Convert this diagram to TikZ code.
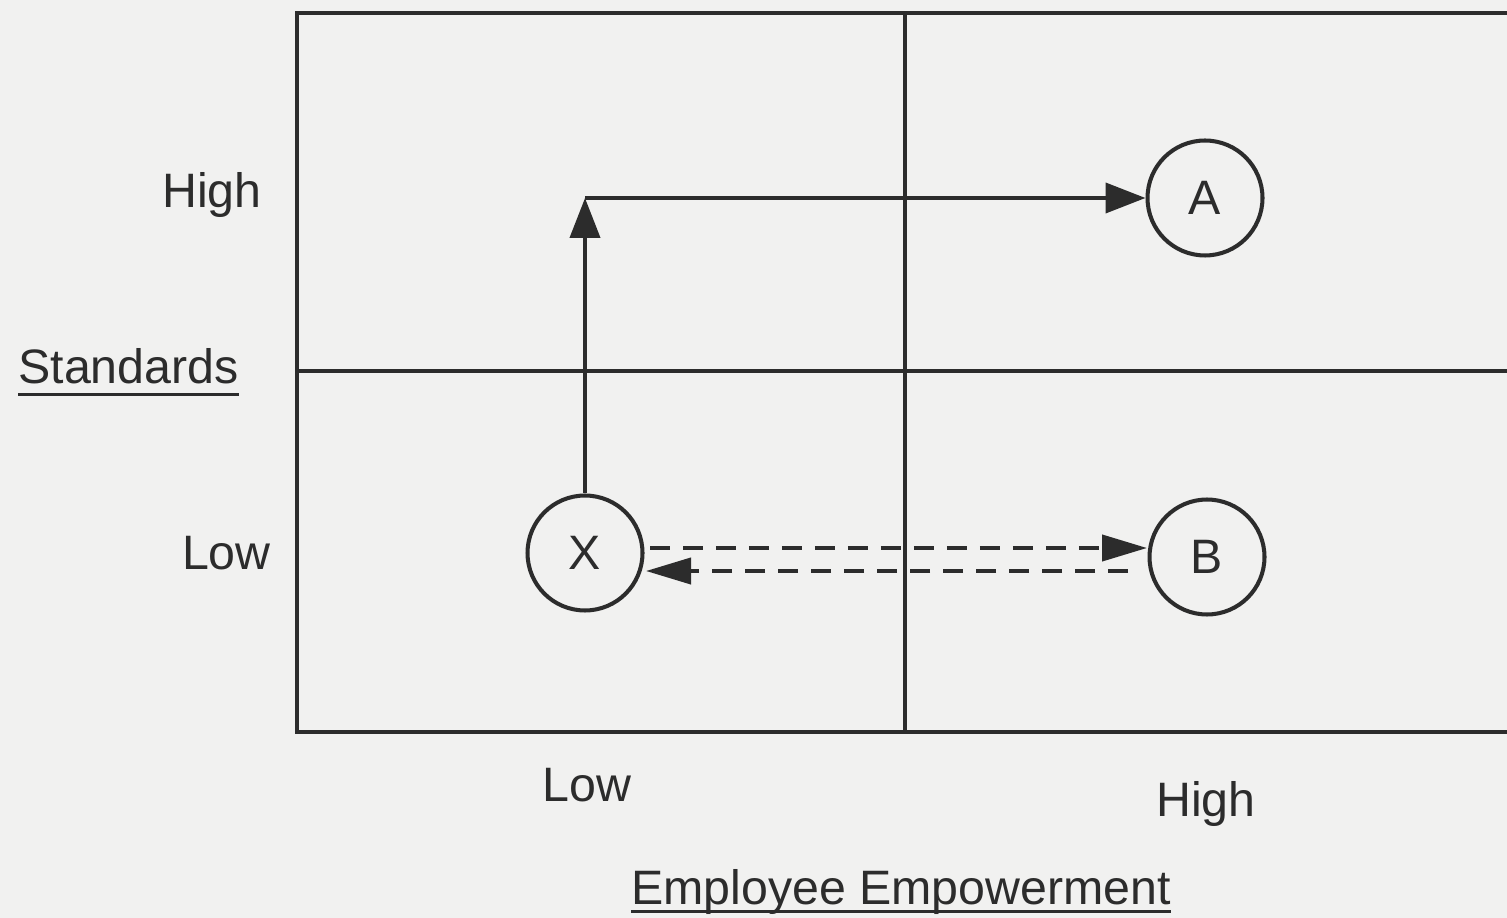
\documentclass[tikz,border=0pt]{standalone}
\usepackage{fontspec}
\setmainfont{Liberation Sans}
\usetikzlibrary{arrows.meta}
\definecolor{paper}{HTML}{F1F1F0}
\definecolor{ink}{HTML}{2C2C2C}
\tikzset{
  px/.style={x=0.02cm,y=-0.02cm},
  ln/.style={draw=ink,line width=2.3pt},
  lbl/.style={text=ink,font=\fontsize{27.5}{30}\selectfont,inner sep=0pt},
  circ/.style={circle,draw=ink,line width=2.3pt,minimum size=2.3cm,inner sep=0pt,text=ink,font=\fontsize{27.5}{30}\selectfont},
  arr/.style={draw=ink,line width=2.3pt,-{Triangle[length=0.8cm,width=0.6cm]}},
  darr/.style={draw=ink,line width=2.3pt,dash pattern=on 0.4cm off 0.26cm,-{Triangle[length=0.9cm,width=0.52cm]}},
  uline/.style={draw=ink,line width=1.7pt}
}
\begin{document}
\begin{tikzpicture}[px]
\fill[paper] (0,0) rectangle (1507,918);
\useasboundingbox (0,0) rectangle (1507,918);
% grid
\draw[ln] (1507,13) -- (297,13) -- (297,732) -- (1507,732);
\draw[ln] (905,13) -- (905,732);
\draw[ln] (297,371) -- (1507,371);
% circles
\node[circ] (A) at (1205,198) {A};
\node[circ] (B) at (1207,557) {B};
\node[circ] (X) at (585,553) {X};
% solid arrows
\coordinate (corner) at (X.north |- A.west);
\draw[arr] (X.north) -- (corner);
\draw[arr] (corner) -- (A.west);
% dashed arrows
\coordinate (xt) at (650,548);
\coordinate (bt) at (1147,548);
\coordinate (bb) at (1128,571);
\coordinate (xb) at (646,571);
\draw[darr] (xt) -- (bt);
\draw[darr] (bb) -- (xb);
% labels
\node[lbl,anchor=base east] (hl) at (262,208) {High};
\node[lbl,anchor=base east] (ll) at (271,569) {Low};
\node[lbl,anchor=base west] (std) at (18,384) {Standards};
\draw[uline] ([yshift=-6pt]std.base west) -- ([yshift=-6pt]std.base east);
\node[lbl,anchor=base] (lb) at (587,801) {Low};
\node[lbl,anchor=base] (hb) at (1206,816) {High};
\node[lbl,anchor=base] (ee) at (901,904) {Employee Empowerment};
\draw[uline] ([yshift=-4pt]ee.base west) -- ([yshift=-4pt]ee.base east);
\end{tikzpicture}
\end{document}
